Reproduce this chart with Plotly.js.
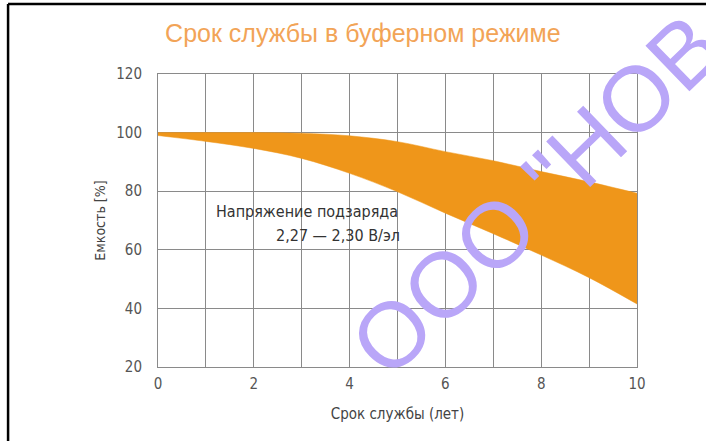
<!DOCTYPE html>
<html>
<head>
<meta charset="utf-8">
<script src="https://cdn.plot.ly/plotly-3.0.1.min.js"></script>
<style>html,body{margin:0;padding:0;background:#fff;}#chart{width:706px;height:441px;}</style>
</head>
<body>
<div id="chart"></div>
<script>
// Data
var years = [0, 1, 2, 3, 4, 5, 6, 7, 8, 9, 10];
var capacityUpper = [100, 100, 100, 99.8, 98.9, 96.9, 93.5, 90.4, 86.7, 83.2, 79.3];
var capacityLower = [99, 97, 94.6, 91.2, 86.1, 79.8, 72.5, 65.5, 58.2, 50.5, 41.5];
var xTickVals = [0, 2, 4, 6, 8, 10];
var yTickVals = [20, 40, 60, 80, 100, 120];
var titleText = 'Срок службы в буферном режиме';
var xTitle = 'Срок службы (лет)';
var yTitle = 'Емкость [%]';
var noteLine1 = 'Напряжение подзаряда';
var noteLine2 = '2,27 — 2,30 В/эл';
var watermark = 'ООО "НОВ';

var FONT = 'Liberation Sans Narrow, DejaVu Sans Condensed, Roboto, sans-serif';
var ORANGE = '#ef961a';
var GRID = '#8a8a8a';

var traces = [
  {x: years, y: capacityLower, type: 'scatter', mode: 'lines',
   line: {color: ORANGE, width: 0.5, shape: 'spline'}, hoverinfo: 'skip', showlegend: false},
  {x: years, y: capacityUpper, type: 'scatter', mode: 'lines', fill: 'tonexty',
   fillcolor: ORANGE, line: {color: ORANGE, width: 0.5, shape: 'spline'}, hoverinfo: 'skip', showlegend: false}
];

var layout = {
  width: 706, height: 441,
  margin: {l: 158, r: 69, t: 74, b: 74},
  paper_bgcolor: '#ffffff',
  plot_bgcolor: '#ffffff',
  showlegend: false,
  title: {text: titleText, x: 0.514, xref: 'container', y: 0.925, yref: 'container', yanchor: 'middle', xanchor: 'center',
          font: {family: 'Liberation Sans, Arial, sans-serif', size: 25, color: '#f2a457'}},
  xaxis: {
    range: [0, 10], tickvals: xTickVals, showgrid: true, gridcolor: GRID, gridwidth: 1,
    minor: {dtick: 1, tick0: 0, showgrid: true, gridcolor: GRID, gridwidth: 1},
    zeroline: false, showline: true, mirror: true, linecolor: GRID, linewidth: 1,
    ticks: 'outside', ticklen: 3, tickcolor: 'rgba(0,0,0,0)',
    tickfont: {family: FONT, size: 15, color: '#555'},
    title: {text: xTitle, standoff: 16, font: {family: FONT, size: 15, color: '#444'}}
  },
  yaxis: {
    range: [20, 120], tickvals: yTickVals, showgrid: true, gridcolor: GRID, gridwidth: 1,
    zeroline: false, showline: true, mirror: true, linecolor: GRID, linewidth: 1,
    ticks: 'outside', ticklen: 12, tickcolor: 'rgba(0,0,0,0)',
    tickfont: {family: FONT, size: 15, color: '#555'},
    title: {text: yTitle, standoff: 7, font: {family: FONT, size: 14, color: '#444'}}
  },
  annotations: [
    {x: 3.11, y: 73.2, xref: 'x', yref: 'y', text: noteLine1, showarrow: false, xanchor: 'center', yanchor: 'middle',
     font: {family: FONT, size: 16, color: '#333'}},
    {x: 3.76, y: 65.0, xref: 'x', yref: 'y', text: noteLine2, showarrow: false, xanchor: 'center', yanchor: 'middle',
     font: {family: FONT, size: 16, color: '#333'}},
    {x: 0.789, y: 0.587, xref: 'paper', yref: 'paper', text: watermark, showarrow: false, textangle: -44,
     xanchor: 'center', yanchor: 'middle', font: {family: 'Liberation Sans, Arial, sans-serif', size: 92, color: '#b9a6f8'}}
  ],
  shapes: [
    {type: 'line', xref: 'paper', yref: 'paper', x0: -0.313, x1: 1.15, y0: 1.239, y1: 1.239, line: {color: '#000', width: 2.5}},
    {type: 'line', xref: 'paper', yref: 'paper', x0: -0.313, x1: -0.313, y0: 1.239, y1: -0.26, line: {color: '#000', width: 2.5}}
  ]
};

Plotly.newPlot('chart', traces, layout, {displayModeBar: false, staticPlot: true});
</script>
</body>
</html>
